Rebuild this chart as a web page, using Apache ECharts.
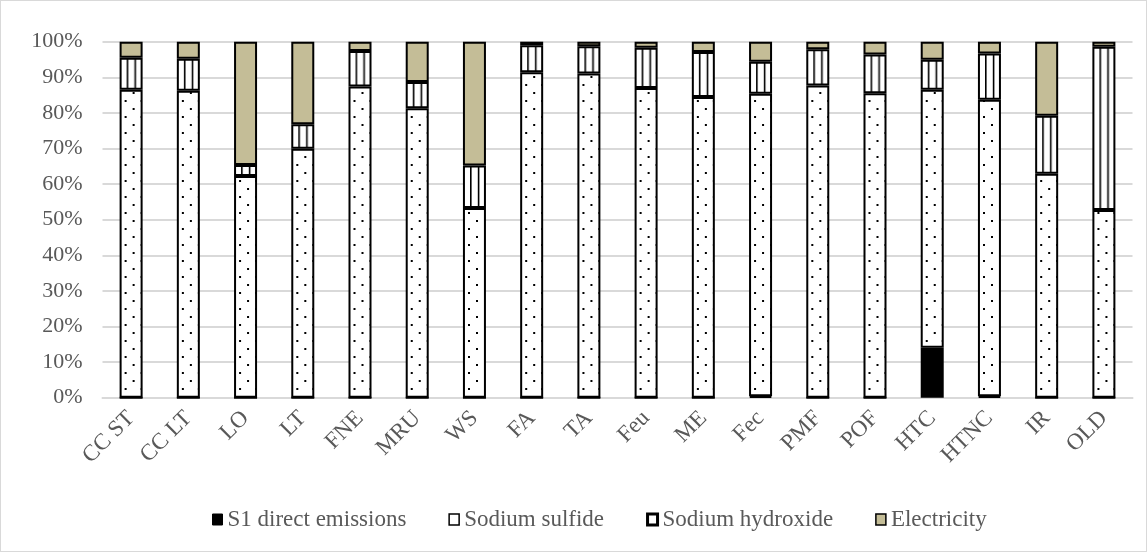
<!DOCTYPE html>
<html><head><meta charset="utf-8">
<script src="https://cdn.jsdelivr.net/npm/echarts@6/dist/echarts.min.js"></script>
<style>html,body{margin:0;padding:0;background:#fff}#c{width:1145px;height:550px;border:1px solid #d9d9d9}</style>
</head><body><div id="c"></div>
<script>
const categories = ['CC ST','CC LT','LO','LT','FNE','MRU','WS','FA','TA','Feu','ME','Fec','PMF','POF','HTC','HTNC','IR','OLD'];
const s1Direct   = [0,0,0,0,0,0,0,0,0,0,0,0.4,0,0,14.0,0.4,0,0];
const sodiumSulfide = [86.5,86.2,62.3,69.9,87.4,81.3,53.3,91.4,91.1,87.0,84.5,85.0,87.7,85.5,72.5,83.3,62.9,52.7];
const sodiumHydroxide = [9.0,9.0,3.1,6.9,10.0,7.4,11.9,7.6,7.6,11.3,12.6,9.0,10.2,10.9,8.4,13.0,16.3,45.9];
const electricity = [4.5,4.8,34.6,23.2,2.6,11.3,34.8,1.0,1.3,1.7,2.9,5.6,2.1,3.6,5.1,3.3,20.8,1.4];
const yTicks = [0,10,20,30,40,50,60,70,80,90,100];

const BAR_W = 23;
function dotTile(){
  const c=document.createElement('canvas');c.width=16;c.height=16;
  const g=c.getContext('2d');g.fillStyle='#fff';g.fillRect(0,0,16,16);
  g.fillStyle='#000';g.fillRect(5,3,2,2);g.fillRect(13,11,2,2);
  return c;
}
function stripeTile(){
  const c=document.createElement('canvas');c.width=BAR_W;c.height=8;
  const g=c.getContext('2d');g.fillStyle='#fff';g.fillRect(0,0,BAR_W,8);
  g.fillStyle='#000';g.fillRect(7,0,1.6,8);g.fillRect(14.8,0,1.6,8);
  return c;
}
const dots=dotTile(), stripes=stripeTile();
const font='"Liberation Serif", "Times New Roman", serif';
const chart=echarts.init(document.getElementById('c'));
const border={borderColor:'#000',borderWidth:2};
function buildOption(offsets){
  const pat=(img,i)=>({image:img,repeat:'repeat',x:offsets?offsets[i]:0,y:0});
  return {
    animation:false,
    grid:{left:101.5,right:13.5,top:40.7,bottom:153.3,containLabel:false},
    legend:{top:502,left:206,icon:'rect',itemWidth:10,itemHeight:11,itemGap:42,
      textStyle:{fontFamily:font,fontSize:23,color:'#595959'},
      data:[
        {name:'S1 direct emissions',itemStyle:{color:'#000',borderColor:'#000',borderWidth:1}},
        {name:'Sodium sulfide',itemStyle:{color:'#fff',borderColor:'#000',borderWidth:1.5}},
        {name:'Sodium hydroxide',itemStyle:{color:'#fff',borderColor:'#000',borderWidth:3}},
        {name:'Electricity',itemStyle:{color:'#c4bd97',borderColor:'#000',borderWidth:1.5}}
      ]},
    xAxis:{type:'category',data:categories,
      axisLine:{lineStyle:{color:'#d9d9d9',width:2}},axisTick:{show:false},
      axisLabel:{rotate:45,fontFamily:font,fontSize:23,color:'#595959',margin:17}},
    yAxis:{type:'value',min:0,max:100,interval:10,
      axisLabel:{fontFamily:font,fontSize:22,color:'#595959',margin:20,
        formatter:v=>yTicks.includes(v)?v+'%':''},
      splitLine:{lineStyle:{color:'#d9d9d9',width:2}},axisLine:{show:false},axisTick:{show:false}},
    series:[
      {type:'bar',stack:'a',barWidth:BAR_W,name:'S1 direct emissions',data:s1Direct,
        itemStyle:Object.assign({color:'#000'},border)},
      {type:'bar',stack:'a',barWidth:BAR_W,name:'Sodium sulfide',
        data:sodiumSulfide.map((v,i)=>({value:v,itemStyle:{color:pat(dots,i)}})),
        itemStyle:Object.assign({color:'#fff'},border)},
      {type:'bar',stack:'a',barWidth:BAR_W,name:'Sodium hydroxide',
        data:sodiumHydroxide.map((v,i)=>({value:v,itemStyle:{color:pat(stripes,i)}})),
        itemStyle:Object.assign({color:'#fff'},border)},
      {type:'bar',stack:'a',barWidth:BAR_W,name:'Electricity',data:electricity,
        itemStyle:Object.assign({color:'#c4bd97'},border)}
    ]
  };
}
chart.setOption(buildOption(null));
const offsets=categories.map((c,i)=>chart.convertToPixel({xAxisIndex:0},i)-BAR_W/2);
chart.setOption(buildOption(offsets),true);
</script></body></html>
